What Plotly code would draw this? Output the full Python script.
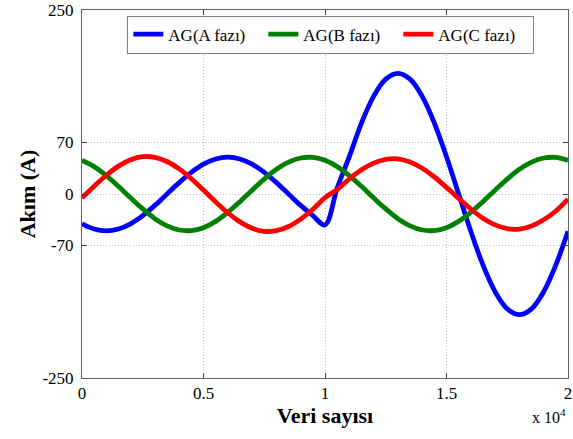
import plotly.graph_objects as go

# Sample index (data points), step 500
samples = [i * 500 for i in range(41)]

# Phase currents (A)
phase_a = [-40.5, -47.6, -50.0, -47.6, -40.5, -29.4, -15.5, 0.0, 15.5, 29.4,
           40.5, 47.6, 50.0, 47.6, 40.5, 29.4, 15.5, 0.0, -15.5, -29.4,
           -42.0, 8.0, 50.7, 96.4, 132.7, 156.0, 164.0, 156.0, 132.7, 96.4,
           50.7, 0.0, -50.7, -96.4, -132.7, -156.0, -164.0, -156.0, -132.7, -96.4,
           -50.7]
phase_b = [45.7, 37.2, 25.0, 10.4, -5.2, -20.3, -33.5, -43.3, -48.9, -49.7,
           -45.7, -37.2, -25.0, -10.4, 5.2, 20.3, 33.5, 43.3, 48.9, 49.7,
           45.7, 37.2, 25.0, 10.4, -5.2, -20.3, -33.5, -43.3, -48.9, -49.7,
           -45.7, -37.2, -25.0, -10.4, 5.2, 20.3, 33.5, 43.3, 48.9, 49.7,
           45.7]
phase_c = [-5.3, 10.6, 25.5, 37.9, 46.6, 50.7, 49.9, 44.2, 34.1, 20.7,
           5.3, -10.6, -25.5, -37.9, -46.6, -50.7, -49.9, -44.2, -34.1, -20.7,
           -5.0, 6.0, 20.4, 32.9, 42.0, 47.1, 47.6, 43.4, 35.0, 23.1,
           9.0, -6.0, -20.4, -32.9, -42.0, -47.1, -47.6, -43.4, -35.0, -23.1,
           -7.0]

series_names = ["AG(A fazı)", "AG(B fazı)", "AG(C fazı)"]
series_colors = ["#0000FF", "#008000", "#FF0000"]

x_tickvals = [0, 5000, 10000, 15000, 20000]
x_ticktext = ["0", "0.5", "1", "1.5", "2"]
y_tickvals = [-250, -70, 0, 70, 250]
y_ticktext = ["-250", "-70", "0", "70", "250"]

FONT = "Liberation Serif, Times New Roman, serif"

fig = go.Figure()
for name, ys, col in zip(series_names, [phase_a, phase_b, phase_c], series_colors):
    fig.add_trace(go.Scatter(
        x=samples, y=ys, mode="lines", name=name,
        line=dict(color=col, width=4.8, shape="spline", smoothing=1.0),
    ))

axis_common = dict(
    showline=True, linecolor="#606060", linewidth=1, mirror="ticks",
    ticks="inside", ticklen=5, tickcolor="#404040",
    showgrid=True, gridcolor="#bdbdbd", griddash="1px,2px", gridwidth=1,
    zeroline=False, tickfont=dict(family=FONT, size=17, color="black"),
    automargin=False, ticklabeloverflow="allow",
)

fig.update_layout(
    width=573, height=439,
    margin=dict(l=82, r=5, t=10, b=61),
    paper_bgcolor="white", plot_bgcolor="white",
    font=dict(family=FONT, color="black"),
    xaxis=dict(range=[0, 20000], tickvals=x_tickvals, ticktext=x_ticktext,
               title=dict(text="<b>Veri sayısı</b>", font=dict(family=FONT, size=22), standoff=2),
               **axis_common),
    yaxis=dict(range=[-250, 250], tickvals=y_tickvals, ticktext=y_ticktext,
               ticklabelstandoff=4,
               title=dict(text="<b>Akım (A)</b>", font=dict(family=FONT, size=22), standoff=0),
               **axis_common),
    legend=dict(orientation="h", x=0.512, xanchor="center", y=0.985, yanchor="top",
                bgcolor="white", bordercolor="#808080", borderwidth=1,
                font=dict(family=FONT, size=17), itemwidth=30, tracegroupgap=0,
                entrywidth=90, entrywidthmode="pixels"),
    showlegend=True,
)

fig.add_annotation(text="x 10<sup>4</sup>", xref="paper", yref="paper",
                   x=1.0, y=-0.07, xanchor="right", yanchor="top",
                   showarrow=False, font=dict(family=FONT, size=16))

fig.write_html("out.html", config={"displayModeBar": False},
               post_script="document.body.style.margin='0px';")
